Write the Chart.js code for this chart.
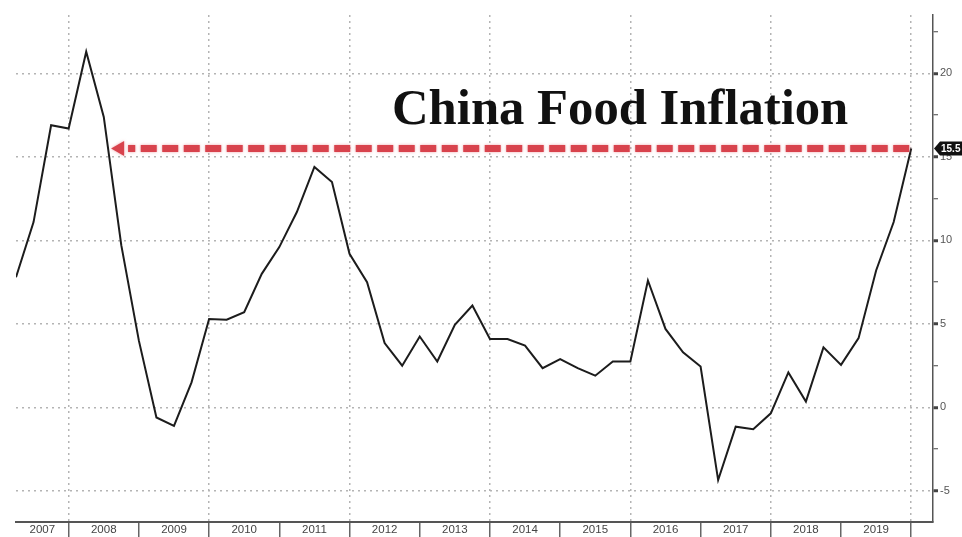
<!DOCTYPE html>
<html>
<head>
<meta charset="utf-8">
<script src="https://cdn.jsdelivr.net/npm/chart.js@4/dist/chart.umd.min.js"></script>
<style>
html,body{margin:0;padding:0;background:#fff;}
#wrap{width:962px;height:537px;}
</style>
</head>
<body>
<div id="wrap"><canvas id="c" width="962" height="537"></canvas></div>
<script>
// ---- data ----
const quarters = [
  "2007-03","2007-06","2007-09","2007-12",
  "2008-03","2008-06","2008-09","2008-12",
  "2009-03","2009-06","2009-09","2009-12",
  "2010-03","2010-06","2010-09","2010-12",
  "2011-03","2011-06","2011-09","2011-12",
  "2012-03","2012-06","2012-09","2012-12",
  "2013-03","2013-06","2013-09","2013-12",
  "2014-03","2014-06","2014-09","2014-12",
  "2015-03","2015-06","2015-09","2015-12",
  "2016-03","2016-06","2016-09","2016-12",
  "2017-03","2017-06","2017-09","2017-12",
  "2018-03","2018-06","2018-09","2018-12",
  "2019-03","2019-06","2019-09","2019-12"
];
const foodInflation = [
  7.8, 11.1, 16.9, 16.7,
  21.3, 17.4, 9.7, 4.0,
  -0.6, -1.1, 1.5, 5.3,
  5.25, 5.7, 8.0, 9.6,
  11.7, 14.4, 13.5, 9.2,
  7.5, 3.85, 2.5, 4.25,
  2.75, 4.95, 6.1, 4.1,
  4.1, 3.7, 2.35, 2.9,
  2.35, 1.9, 2.75, 2.75,
  7.6, 4.7, 3.3, 2.45,
  -4.35, -1.15, -1.3, -0.35,
  2.1, 0.35, 3.6, 2.55,
  4.15, 8.2, 11.1, 15.5
];
const years = ["2007","2008","2009","2010","2011","2012","2013","2014","2015","2016","2017","2018","2019"];
const yTickLabels = ["-5","0","5","10","15","20"];
const titleText = "China Food Inflation";

// ---- helpers ----
function quarterToX(q) {
  const [y, m] = q.split("-").map(Number);
  return y + m / 12;
}
const points = quarters.map((q, i) => ({ x: quarterToX(q), y: foodInflation[i] }));
const X_MIN = 2007.25, X_MAX = 2020.31;
const Y_MIN = -6.86, Y_MAX = 23.5;
const yMajor = yTickLabels.map(Number);

Chart.defaults.font.family = "'Liberation Sans', Arial, sans-serif";

const overlay = {
  id: 'overlay',
  afterDraw(chart) {
    const { ctx, chartArea, scales: { x, y } } = chart;
    ctx.save();

    // year labels
    ctx.font = "11.5px 'Liberation Sans', Arial, sans-serif";
    ctx.fillStyle = '#444';
    ctx.textAlign = 'center';
    ctx.textBaseline = 'middle';
    years.forEach(yr => {
      const a = Math.max(Number(yr), X_MIN), b = Math.min(Number(yr) + 1, X_MAX);
      const cx = (x.getPixelForValue(a) + x.getPixelForValue(b)) / 2;
      ctx.fillText(yr, cx, chartArea.bottom + 8);
    });

    // title
    ctx.fillStyle = '#111';
    ctx.textAlign = 'left';
    ctx.textBaseline = 'alphabetic';
    ctx.font = "bold 50px 'Liberation Serif', 'Times New Roman', serif";
    const w = ctx.measureText(titleText).width;
    const fs = 50 * 456 / w;
    ctx.font = "bold " + fs.toFixed(1) + "px 'Liberation Serif', 'Times New Roman', serif";
    ctx.fillText(titleText, 392, 124);

    // red dashed arrow at the last value level
    const n = foodInflation.length;
    const target = foodInflation[n - 1];
    const yPix = y.getPixelForValue(target);
    const xStart = x.getPixelForValue(points[n - 1].x);
    let xCross = chartArea.left;
    for (let i = n - 3; i >= 0; i--) {
      const a = foodInflation[i], b = foodInflation[i + 1];
      if ((a - target) * (b - target) <= 0 && a !== b) {
        const t = (target - a) / (b - a);
        const xa = x.getPixelForValue(points[i].x), xb = x.getPixelForValue(points[i + 1].x);
        xCross = xa + t * (xb - xa);
        break;
      }
    }
    const tipX = xCross + 3;
    ctx.shadowColor = 'rgba(225,90,100,0.55)';
    ctx.shadowBlur = 3;
    ctx.strokeStyle = '#d8434d';
    ctx.lineWidth = 7;
    ctx.lineCap = 'butt';
    ctx.setLineDash([16, 5.5]);
    ctx.beginPath();
    ctx.moveTo(xStart - 2, yPix);
    ctx.lineTo(tipX + 17, yPix);
    ctx.stroke();
    ctx.setLineDash([]);
    ctx.fillStyle = '#d8434d';
    ctx.beginPath();
    ctx.moveTo(tipX, yPix);
    ctx.lineTo(tipX + 13, yPix - 7.5);
    ctx.lineTo(tipX + 13, yPix + 7.5);
    ctx.closePath();
    ctx.fill();
    ctx.shadowBlur = 0;
    ctx.shadowColor = 'transparent';

    // last value box on right axis
    const ax = chartArea.right;
    ctx.fillStyle = '#111';
    ctx.beginPath();
    ctx.moveTo(ax + 1, yPix);
    ctx.lineTo(ax + 7, yPix - 7);
    ctx.lineTo(chart.width + 4, yPix - 7);
    ctx.lineTo(chart.width + 4, yPix + 7);
    ctx.lineTo(ax + 7, yPix + 7);
    ctx.closePath();
    ctx.fill();
    ctx.fillStyle = '#fff';
    ctx.font = "bold 10px 'Liberation Sans', Arial, sans-serif";
    ctx.textAlign = 'left';
    ctx.textBaseline = 'middle';
    ctx.fillText(String(target), ax + 8, yPix + 0.5);

    ctx.restore();
  }
};

new Chart(document.getElementById('c'), {
  type: 'line',
  data: {
    datasets: [{
      label: 'China Food Inflation',
      data: points,
      borderColor: '#1c1c1c',
      borderWidth: 2,
      pointRadius: 0,
      tension: 0,
      fill: false
    }]
  },
  options: {
    responsive: false,
    animation: false,
    layout: { padding: { left: 16, top: 15, right: 0, bottom: 0 } },
    plugins: { legend: { display: false }, tooltip: { enabled: false }, title: { display: false } },
    scales: {
      x: {
        type: 'linear',
        min: X_MIN,
        max: X_MAX,
        afterBuildTicks: s => {
          s.ticks = years.slice(1).map(Number).concat([Number(years[years.length - 1]) + 1]).map(v => ({ value: v }));
        },
        afterFit: s => { s.height = 15; },
        ticks: { display: false, autoSkip: false },
        grid: {
          color: c => (c.tick && c.tick.value % 2 === 0) ? '#b4b4b4' : 'rgba(0,0,0,0)',
          lineWidth: 1.5,
          drawTicks: true,
          tickLength: 15,
          tickColor: '#666',
          tickWidth: 1.5,
          tickBorderDash: []
        },
        border: { display: true, color: '#555', width: 2, dash: [2, 4] }
      },
      y: {
        position: 'right',
        min: Y_MIN,
        max: Y_MAX,
        afterBuildTicks: s => {
          const t = [];
          for (let i = 0; i < yMajor.length; i++) {
            t.push({ value: yMajor[i] });
            t.push({ value: yMajor[i] + (yMajor[1] - yMajor[0]) / 2 });
          }
          s.ticks = t;
        },
        afterFit: s => { s.width = 29; },
        ticks: {
          autoSkip: false,
          padding: 2,
          color: '#555',
          font: { size: 11 },
          callback: v => (yTickLabels.includes(String(v)) ? String(v) : '')
        },
        grid: {
          color: c => (c.tick && yMajor.includes(c.tick.value)) ? '#b4b4b4' : 'rgba(0,0,0,0)',
          lineWidth: 1.5,
          drawTicks: true,
          tickLength: 5,
          tickColor: '#444',
          tickWidth: c => (c.tick && yMajor.includes(c.tick.value)) ? 3 : 1,
          tickBorderDash: []
        },
        border: { display: true, color: '#555', width: 1.5, dash: [2, 4] }
      }
    }
  },
  plugins: [overlay]
});
</script>
</body>
</html>
